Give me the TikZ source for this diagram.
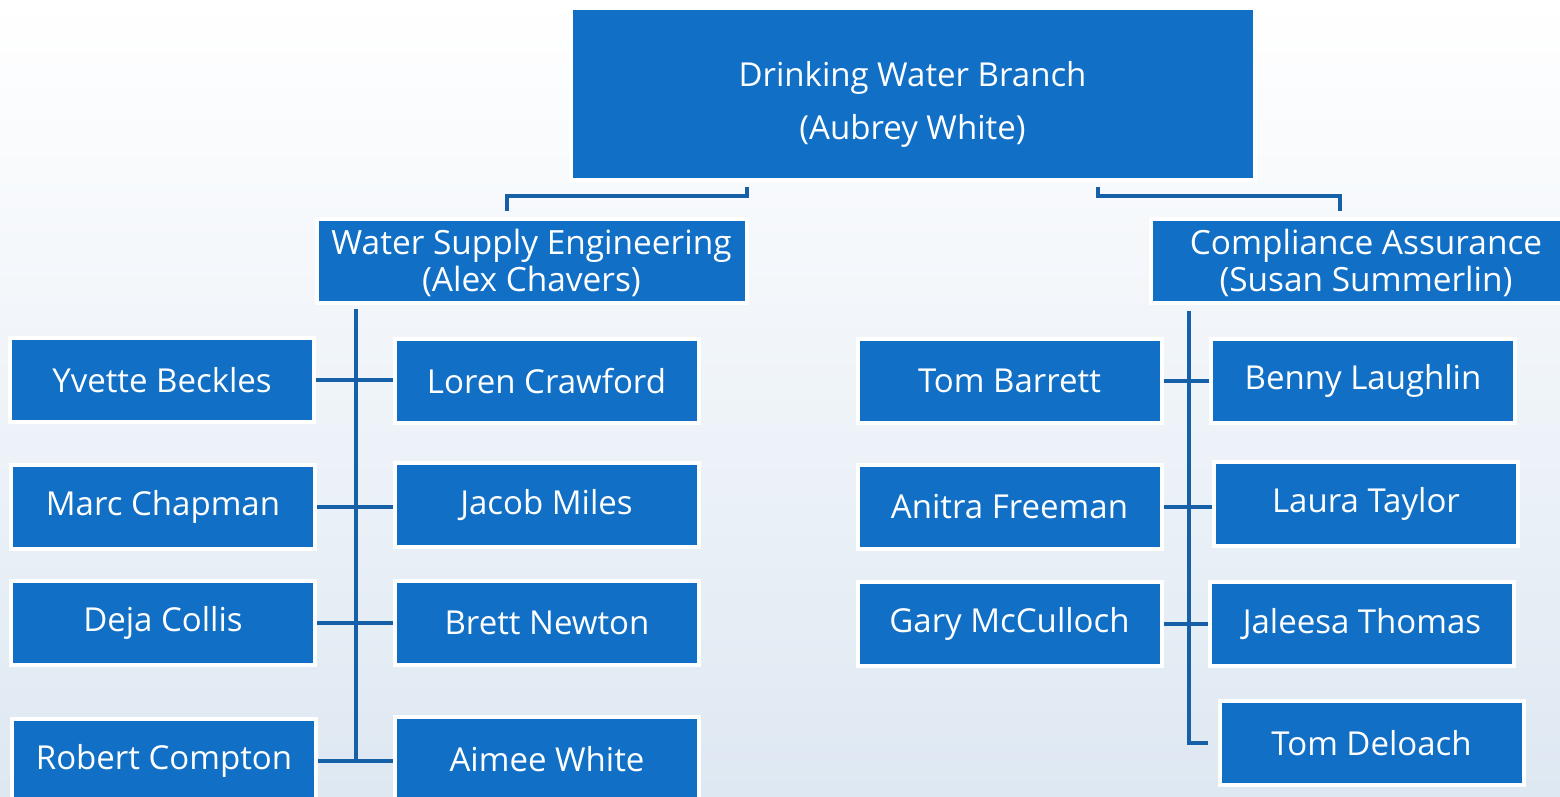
\documentclass[tikz,border=0pt]{standalone}
\usepackage{fontspec}
\setmainfont{Open Sans}
\usetikzlibrary{calc}
\definecolor{boxblue}{RGB}{17,112,198}
\definecolor{lineblue}{RGB}{22,96,168}
\definecolor{bgblue}{RGB}{222,232,242}
\begin{document}
\begin{tikzpicture}[x=0.5pt, y=-0.5pt,
	box/.style={draw=white, line width=2pt, fill=boxblue, text=white, inner sep=0pt,
		minimum width=152pt, minimum height=42pt, font=\fontsize{16.5}{20}\selectfont},
	head/.style={box, align=center},
	conn/.style={draw=lineblue, line width=2pt}]

	\clip (0,0) rectangle (1560,797);
	\shade[top color=white, bottom color=bgblue] (0,0) rectangle (1560,797);

	\node[head, minimum width=342pt, minimum height=86pt, font=\fontsize{16.5}{26.5}\selectfont] (branch) at (912.5,94) {\rule{0pt}{23pt}Drinking Water Branch\\(Aubrey White)};
	\node[head, minimum width=215pt, font=\fontsize{16.7}{18.5}\selectfont] (wse) at (531.5,261) {\rule{0pt}{15pt}Water Supply Engineering\\(Alex Chavers)};
	\node[head, minimum width=215pt, font=\fontsize{16.7}{18.5}\selectfont] (ca) at (1366,261) {\rule{0pt}{15pt}Compliance Assurance\\(Susan Summerlin)};

	\node[box] (yvette) at (162,380) {Yvette Beckles};
	\node[box] (marc) at (163,507) {Marc Chapman};
	\node[box] (deja) at (163,623) {Deja Collis};
	\node[box] (robert) at (164,761) {Robert Compton};

	\node[box] (loren) at (546.5,381) {Loren Crawford};
	\node[box] (jacob) at (546.5,505) {Jacob Miles};
	\node[box] (brett) at (547,623) {Brett Newton};
	\node[box] (aimee) at (547,759) {Aimee White};

	\node[box] (tombarrett) at (1009.5,381) {Tom Barrett};
	\node[box] (anitra) at (1009.5,507) {Anitra Freeman};
	\node[box] (gary) at (1009.5,624) {Gary McCulloch};

	\node[box] (benny) at (1363,381) {Benny Laughlin};
	\node[box] (laura) at (1366,504) {Laura Taylor};
	\node[box] (jaleesa) at (1362,624) {Jaleesa Thomas};
	\node[box] (tomdeloach) at (1371.5,743) {Tom Deloach};

	\draw[conn] ($(branch.south)+(-165.5,5)$) |- ($(wse.north)+(-24.5,-21)$) -- ($(wse.north)+(-24.5,-6)$);
	\draw[conn] ($(branch.south)+(185.5,5)$) |- ($(ca.north)+(-26,-21)$) -- ($(ca.north)+(-26,-6)$);

	\coordinate (wsetrunk) at ($(wse.south)+(-175.5,4)$);
	\coordinate (catrunk) at ($(ca.south)+(-177,6)$);

	\draw[conn] (wsetrunk) -- (wsetrunk |- robert.east);
	\draw[conn] (yvette.east) -- (yvette.east -| loren.west);
	\draw[conn] (marc.east) -- (marc.east -| jacob.west);
	\draw[conn] (deja.east) -- (deja.east -| brett.west);
	\draw[conn] (robert.east) -- (robert.east -| aimee.west);

	\draw[conn] (catrunk) |- ($(tomdeloach.west)+(-10,0)$);
	\draw[conn] (tombarrett.east) -- (tombarrett.east -| benny.west);
	\draw[conn] (anitra.east) -- (anitra.east -| laura.west);
	\draw[conn] (gary.east) -- (gary.east -| jaleesa.west);
\end{tikzpicture}
\end{document}
